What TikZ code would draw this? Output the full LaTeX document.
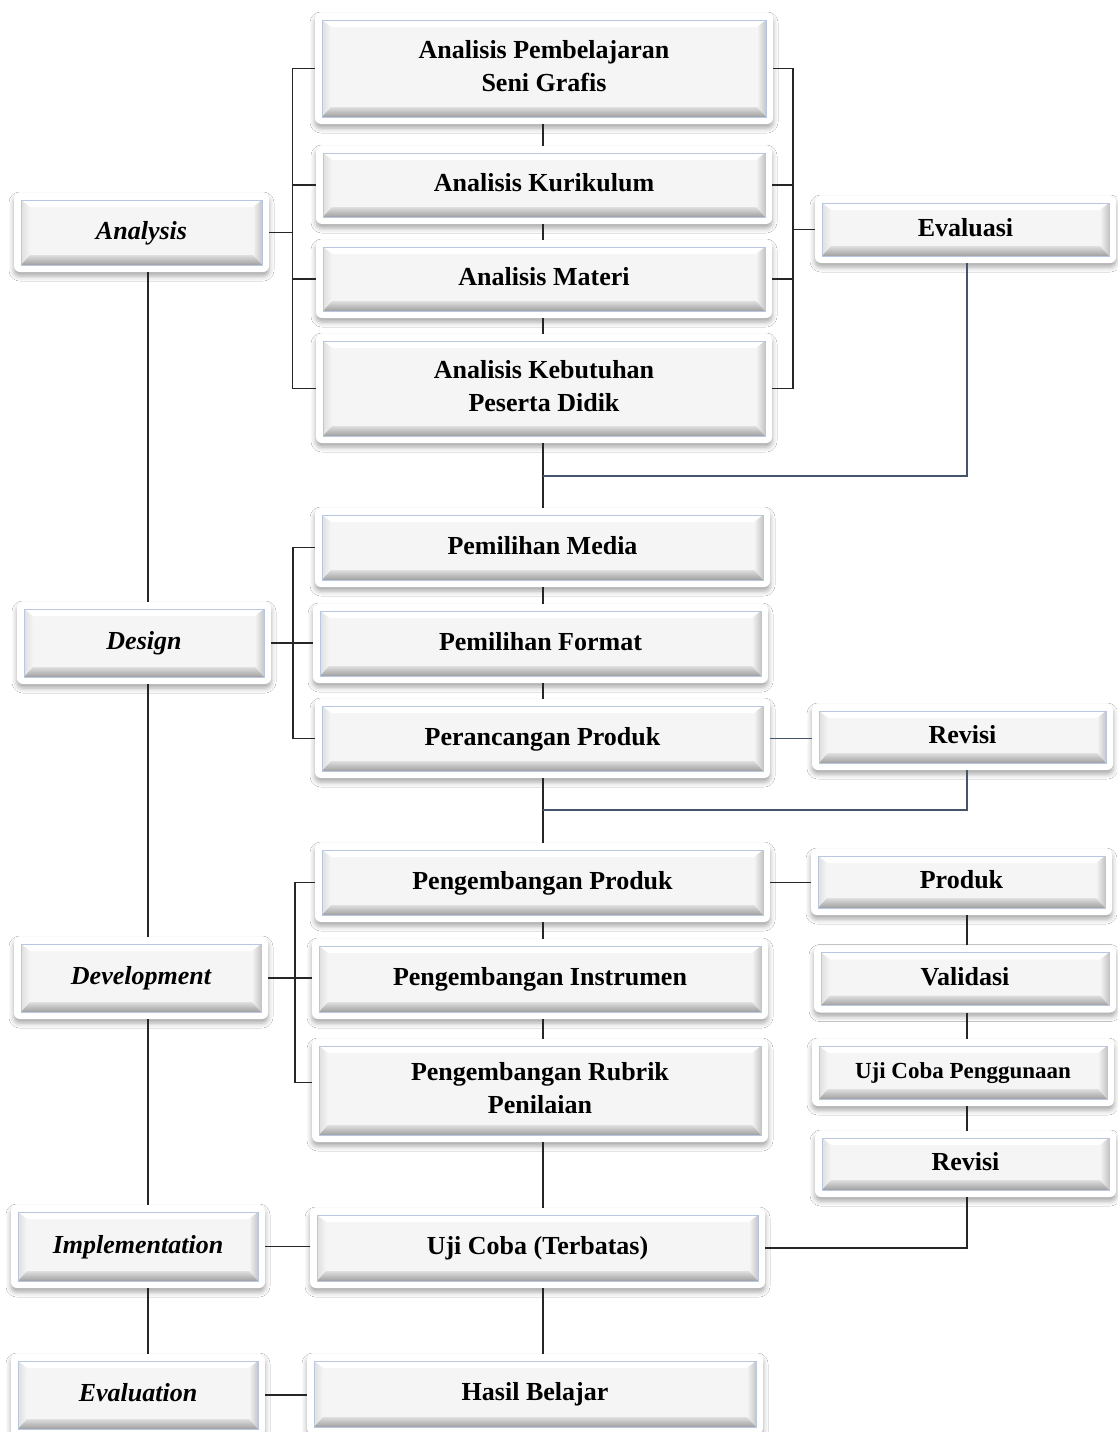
\documentclass[tikz,border=0pt]{standalone}
\usepackage{fontspec}
\setmainfont{Liberation Serif}
\usetikzlibrary{calc,shadows.blur}
\definecolor{face}{HTML}{F5F5F5}
\definecolor{edgeblue}{HTML}{B9C6DF}
\definecolor{ln}{HTML}{262626}
\definecolor{lnb}{HTML}{44546A}
\newcommand{\tx}[1]{\raisebox{4.5pt}{\begin{tabular}{@{}c@{}}#1\end{tabular}}}
\tikzset{
  box/.style={fill=white, rounded corners=6pt, inner sep=0pt, align=center,
    font=\bfseries\fontsize{26}{33}\selectfont,
    blur shadow={shadow xshift=0pt, shadow yshift=-4pt, shadow blur radius=5pt, shadow opacity=35},
    path picture={
      \begin{scope}[sharp corners]
      \coordinate (pA) at ([shift={(7pt,7pt)}]path picture bounding box.south west);
      \coordinate (pC) at ([shift={(-7pt,-7pt)}]path picture bounding box.north east);
      \coordinate (pB) at (pA |- pC);
      \coordinate (pD) at (pC |- pA);
      \fill[face] (pA) rectangle (pC);
      \fill[white] (pB) -- (pC) -- ([shift={(-9pt,-7pt)}]pC) -- ([shift={(9pt,-7pt)}]pB) -- cycle;
      \shade[left color=gray!25, right color=face] (pA) -- (pB) -- ([shift={(9pt,-7pt)}]pB) -- ([shift={(9pt,10pt)}]pA) -- cycle;
      \shade[left color=face, right color=gray!45] (pD) -- (pC) -- ([shift={(-9pt,-7pt)}]pC) -- ([shift={(-9pt,10pt)}]pD) -- cycle;
      \shade[top color=gray!25, bottom color=gray!75] (pA) -- (pD) -- ([shift={(-9pt,10pt)}]pD) -- ([shift={(9pt,10pt)}]pA) -- cycle;
      \draw[edgeblue, line width=0.8pt] (pA) rectangle (pC);
      \end{scope}
    }},
  bw/.style 2 args={minimum width=#1pt, minimum height=#2pt},
  ital/.style={font=\bfseries\itshape\fontsize{26}{33}\selectfont},
  small/.style={font=\bfseries\fontsize{23}{28}\selectfont},
  conn/.style={draw=ln, line width=1.3pt},
  connb/.style={draw=lnb, line width=1.3pt},
}
\begin{document}
\begin{tikzpicture}[x=1pt, y=-1pt]
\useasboundingbox[fill=white] (0,0) rectangle (1117,1432);

% left column
\node[box, ital, bw={255}{79}] (anl) at (141.5,232.5) {\tx{Analysis}};
\node[box, ital, bw={254}{82}] (des) at (144,643) {\tx{Design}};
\node[box, ital, bw={254}{82}] (dev) at (141,978) {\tx{Development}};
\node[box, ital, bw={254}{83}] (imp) at (138,1246.5) {\tx{Implementation}};
\node[box, ital, bw={254}{82}] (evl) at (138,1395) {\tx{Evaluation}};

% center column
\node[box, bw={458}{111}] (a1) at (544,68.5) {\tx{Analisis Pembelajaran\\Seni Grafis}};
\node[box, bw={456}{78}] (a2) at (544,185) {\tx{Analisis Kurikulum}};
\node[box, bw={456}{78}] (a3) at (544,279) {\tx{Analisis Materi}};
\node[box, bw={456}{109}] (a4) at (544,388.5) {\tx{Analisis Kebutuhan\\Peserta Didik}};
\node[box, bw={455}{79}] (pm) at (542.5,547.5) {\tx{Pemilihan Media}};
\node[box, bw={455}{79}] (pf) at (540.5,643.5) {\tx{Pemilihan Format}};
\node[box, bw={455}{79}] (pp) at (542.5,738.5) {\tx{Perancangan Produk}};
\node[box, bw={455}{79}] (gp) at (542.5,882.5) {\tx{Pengembangan Produk}};
\node[box, bw={456}{80}] (gi) at (540,979) {\tx{Pengembangan Instrumen}};
\node[box, bw={456}{103}] (gr) at (540,1090.5) {\tx{Pengembangan Rubrik\\Penilaian}};
\node[box, bw={455}{80}] (uc) at (537.5,1248) {\tx{Uji Coba (Terbatas)}};
\node[box, bw={456}{80}] (hb) at (535,1394) {\tx{Hasil Belajar}};

% right column
\node[box, bw={301}{67}] (ev) at (965.5,229.5) {\tx{Evaluasi}};
\node[box, bw={301}{66}] (rv1) at (962.5,737) {\tx{Revisi}};
\node[box, bw={301}{66}] (pr) at (961.5,882) {\tx{Produk}};
\node[box, bw={302}{67}] (va) at (965,979) {\tx{Validasi}};
\node[box, small, bw={302}{67}] (ucp) at (963,1072.5) {\tx{Uji Coba Penggunaan}};
\node[box, bw={301}{66}] (rv2) at (965.5,1164) {\tx{Revisi}};

% guide coordinates
\coordinate (lx) at (148,0);
\coordinate (cx) at (543,0);
\coordinate (rx) at (967,0);
\coordinate (lb) at (292.5,0);
\coordinate (rb) at (793,0);
\coordinate (db) at (293,0);
\coordinate (vb) at (295,0);
\coordinate (j1) at (543,476);
\coordinate (j2) at (543,810);

% left spine
\draw[conn] (anl.south -| lx) -- (des.north -| lx);
\draw[conn] (des.south -| lx) -- (dev.north -| lx);
\draw[conn] (dev.south -| lx) -- (imp.north -| lx);
\draw[conn] (imp.south -| lx) -- (evl.north -| lx);

% analysis brackets
\draw[conn] (a1.west) -- (a1.west -| lb) -- (a4.west -| lb) -- (a4.west);
\draw[conn] (a2.west) -- (a2.west -| lb);
\draw[conn] (a3.west) -- (a3.west -| lb);
\draw[conn] (anl.east) -- (anl.east -| lb);
\draw[conn] (a1.east) -- (a1.east -| rb) -- (a4.east -| rb) -- (a4.east);
\draw[conn] (a2.east) -- (a2.east -| rb);
\draw[conn] (a3.east) -- (a3.east -| rb);
\draw[conn] (ev.west) -- (ev.west -| rb);
\draw[conn] (a1.south -| cx) -- (a2.north -| cx);
\draw[conn] (a2.south -| cx) -- (a3.north -| cx);
\draw[conn] (a3.south -| cx) -- (a4.north -| cx);
\draw[conn] (a4.south -| cx) -- (pm.north -| cx);
\draw[connb] (ev.south -| rx) |- (j1);

% design
\draw[conn] (pm.west) -- (pm.west -| db) -- (pp.west -| db) -- (pp.west);
\draw[conn] (des.east) -- (des.east -| pf.west);
\draw[conn] (pm.south -| cx) -- (pf.north -| cx);
\draw[conn] (pf.south -| cx) -- (pp.north -| cx);
\draw[conn] (pp.south -| cx) -- (gp.north -| cx);
\draw[connb] (pp.east) -- (pp.east -| rv1.west);
\draw[connb] (rv1.south -| rx) |- (j2);

% development
\draw[conn] (gp.west) -- (gp.west -| vb) -- ([yshift=8pt]gr.west -| vb) -- ([yshift=8pt]gr.west);
\draw[conn] (dev.east) -- (dev.east -| gi.west);
\draw[conn] (gp.east) -- (gp.east -| pr.west);
\draw[conn] (gp.south -| cx) -- (gi.north -| cx);
\draw[conn] (gi.south -| cx) -- (gr.north -| cx);
\draw[conn] (gr.south -| cx) -- (uc.north -| cx);
\draw[conn] (pr.south -| rx) -- (va.north -| rx);
\draw[conn] (va.south -| rx) -- (ucp.north -| rx);
\draw[conn] (ucp.south -| rx) -- (rv2.north -| rx);
\draw[conn] (rv2.south -| rx) |- (uc.east);

% implementation / evaluation
\draw[conn] (imp.east) -- (imp.east -| uc.west);
\draw[conn] (uc.south -| cx) -- (hb.north -| cx);
\draw[conn] (evl.east) -- (evl.east -| hb.west);
\end{tikzpicture}
\end{document}
